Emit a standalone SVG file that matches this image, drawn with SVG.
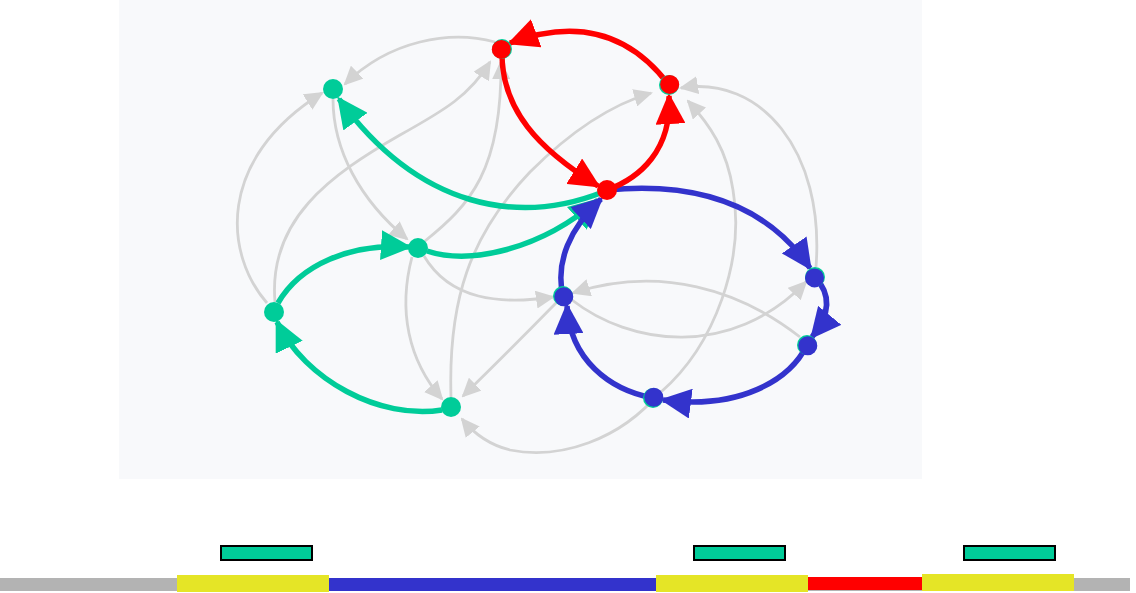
<svg xmlns="http://www.w3.org/2000/svg" width="1136" height="593" viewBox="0 0 1136 593">
<style>
.g{fill:none;stroke:#d3d3d3;stroke-width:2.8}
.cg{fill:none;stroke:#00cc99;stroke-width:5.5}
.cr{fill:none;stroke:#ff0000;stroke-width:5.5}
.cb{fill:none;stroke:#3333cc;stroke-width:5.5}
.ng{fill:#00cc99}
.nr{fill:#ff0000}
.nb{fill:#3333cc}
.box{fill:#00cc99;stroke:#000;stroke-width:2}
</style>
<defs>
<marker id="ag" markerUnits="userSpaceOnUse" viewBox="0 0 19 18" markerWidth="19" markerHeight="18" refX="17" refY="9" orient="auto"><path d="M0,0 L19,9 L0,18 z" fill="#d3d3d3"/></marker>
<marker id="agr" markerUnits="userSpaceOnUse" viewBox="0 0 31 30" markerWidth="31" markerHeight="30" refX="28" refY="15" orient="auto"><path d="M0,0 L31,15 L0,30 z" fill="#00cc99"/></marker>
<marker id="ar" markerUnits="userSpaceOnUse" viewBox="0 0 31 30" markerWidth="31" markerHeight="30" refX="28" refY="15" orient="auto"><path d="M0,0 L31,15 L0,30 z" fill="#ff0000"/></marker>
<marker id="ab" markerUnits="userSpaceOnUse" viewBox="0 0 31 30" markerWidth="31" markerHeight="30" refX="28" refY="15" orient="auto"><path d="M0,0 L31,15 L0,30 z" fill="#3333cc"/></marker>
</defs>
<rect x="119" y="0" width="803" height="479" fill="#f8f9fb"/>
<g id="connectors">
<g id="gray-edges" marker-end="url(#ag)">
<path class="g" d="M495,42 C450,30 390,40 345,84"/>
<path class="g" d="M333,99 C333,150 360,200 407,239"/>
<path class="g" d="M267,303 C225,255 215,160 322,93"/>
<path class="g" d="M275,302 C268,220 330,175 400,135 C445,110 470,95 490,62"/>
<path class="g" d="M425,241 C470,205 502,170 501,62"/>
<path class="g" d="M451,397 C448,300 470,235 530,172 C570,132 610,105 651,93"/>
<path class="g" d="M661,392 C715,345 745,260 733,190 C727,150 710,125 688,101"/>
<path class="g" d="M660,392 C620,440 560,460 510,450 C490,445 475,435 462,419"/>
<path class="g" d="M816,267 C825,150 760,75 681,88"/>
<path class="g" d="M572,300 C630,345 730,360 806,282"/>
<path class="g" d="M800,337 C740,290 660,265 573,293"/>
<path class="g" d="M424,256 C450,300 500,305 553,297"/>
<path class="g" d="M556,303 Q510,350 463,396"/>
<path class="g" d="M412,257 C398,310 408,360 442,399"/>
</g>
<g id="green-edges">
<path class="cg" d="M442,410 C380,420 305,380 277,322" marker-end="url(#agr)"/>
<path class="cg" d="M278,303 C300,265 350,243 409,247" marker-end="url(#agr)"/>
<path class="cg" d="M427,251 C470,265 540,250 598,200" marker-end="url(#agr)"/>
<path class="cg" d="M603,192 C520,225 420,210 339,99" marker-end="url(#agr)"/>
</g>
<g id="blue-edges">
<path class="cb" d="M607,190 C680,183 760,195 810,268" marker-end="url(#ab)"/>
<path class="cb" d="M815,277 C832,295 830,315 812,337" marker-end="url(#ab)"/>
<path class="cb" d="M807,345 C790,380 740,410 663,400" marker-end="url(#ab)"/>
<path class="cb" d="M653,398 C610,390 570,360 567,306" marker-end="url(#ab)"/>
<path class="cb" d="M563,296 C555,262 570,228 601,199" marker-end="url(#ab)"/>
</g>
<g id="red-edges">
<path class="cr" d="M669,85 C635,40 585,15 510,43" marker-end="url(#ar)"/>
<path class="cr" d="M502,49 C500,110 540,150 598,186" marker-end="url(#ar)"/>
<path class="cr" d="M607,190 C640,178 672,150 669,96" marker-end="url(#ar)"/>
</g>
</g>
<g id="nodes">
<g id="node-A"><circle class="ng" cx="333" cy="89" r="10"/></g>
<g id="node-B"><circle class="ng" cx="502" cy="49" r="10"/><circle class="nr" cx="501.3" cy="49.4" r="9.5"/></g>
<g id="node-C"><circle class="ng" cx="669" cy="85" r="10"/><circle class="nr" cx="669.7" cy="84.4" r="9.5"/></g>
<g id="node-D"><circle class="nr" cx="607" cy="190" r="10"/></g>
<g id="node-E"><circle class="ng" cx="418" cy="248" r="10"/></g>
<g id="node-F"><circle class="ng" cx="274" cy="312" r="10"/></g>
<g id="node-G"><circle class="ng" cx="563" cy="296" r="10"/><circle class="nb" cx="563.8" cy="296.8" r="9.5"/></g>
<g id="node-H"><circle class="ng" cx="815" cy="277" r="10"/><circle class="nb" cx="814.5" cy="277.9" r="9.5"/></g>
<g id="node-I"><circle class="ng" cx="807" cy="345" r="10"/><circle class="nb" cx="807.8" cy="345.8" r="9.5"/></g>
<g id="node-J"><circle class="ng" cx="653" cy="398" r="10"/><circle class="nb" cx="653.8" cy="397.3" r="9.5"/></g>
<g id="node-K"><circle class="ng" cx="451" cy="407" r="10"/></g>
</g>
<g id="track">
<rect x="0" y="578" width="1130" height="13" fill="#b3b3b3"/>
<rect x="329" y="578" width="327" height="13" fill="#3333cc"/>
<rect x="808" y="577" width="114" height="13" fill="#ff0000"/>
<rect x="177" y="575" width="152" height="17" fill="#e5e526"/>
<rect x="656" y="575" width="152" height="17" fill="#e5e526"/>
<rect x="922" y="574" width="152" height="17" fill="#e5e526"/>
<rect class="box" x="221" y="546" width="91" height="14"/>
<rect class="box" x="694" y="546" width="91" height="14"/>
<rect class="box" x="964" y="546" width="91" height="14"/>
</g>
</svg>
